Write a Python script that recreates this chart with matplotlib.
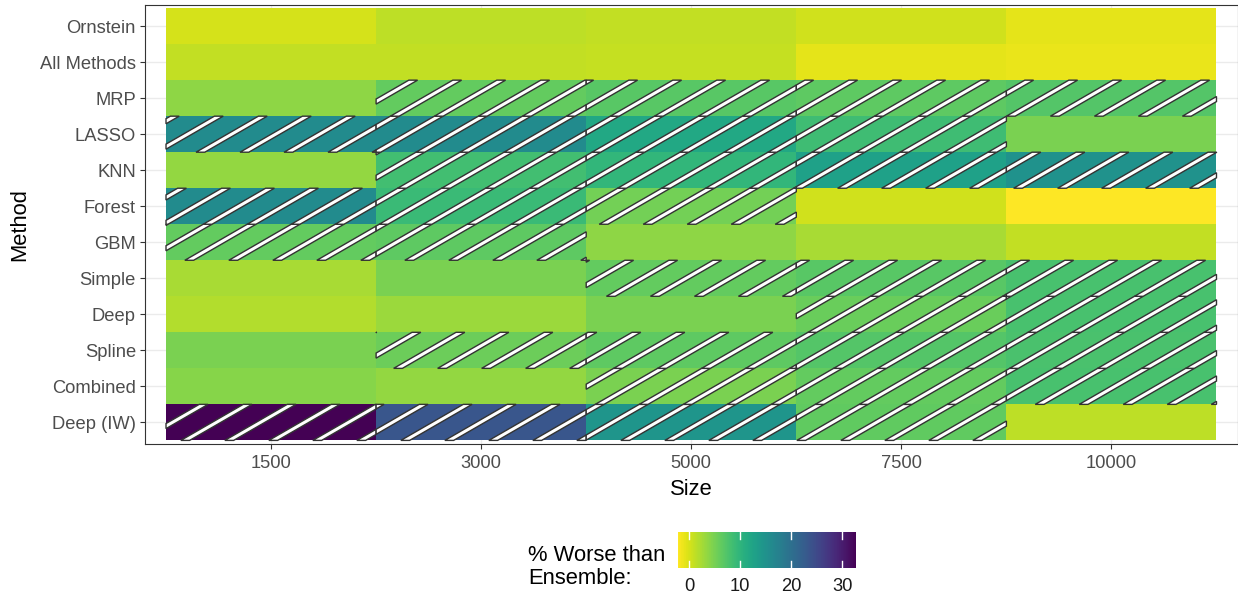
import numpy as np
import matplotlib.pyplot as plt
from matplotlib.collections import PolyCollection

plt.rcParams['font.family'] = ['Liberation Sans', 'DejaVu Sans']

# Categories
sizes = ['1500', '3000', '5000', '7500', '10000']
methods = ['Ornstein', 'All Methods', 'MRP', 'LASSO', 'KNN', 'Forest', 'GBM',
           'Simple', 'Deep', 'Spline', 'Combined', 'Deep (IW)']

# % worse than ensemble (per method, in size order)
pct_ornstein = [0.0, 1.3, 1.0, 0.3, -0.8]
pct_all = [1.0, 1.0, 0.9, -0.8, -1.0]
pct_mrp = [3.7, 6.2, 6.9, 6.5, 7.2]
pct_lasso = [16.0, 16.0, 11.8, 8.6, 4.8]
pct_knn = [3.4, 8.3, 9.7, 12.8, 15.0]
pct_forest = [16.0, 9.0, 5.2, 0.3, -2.2]
pct_gbm = [6.2, 6.5, 3.7, 2.3, 1.0]
pct_simple = [2.3, 4.8, 6.2, 6.9, 7.9]
pct_deep = [1.8, 3.0, 4.8, 5.8, 7.9]
pct_spline = [4.8, 5.6, 6.5, 7.2, 7.8]
pct_combined = [4.2, 3.5, 4.8, 6.2, 7.9]
pct_deep_iw = [32.7, 23.3, 14.5, 6.3, 1.3]

# striped cells (1 = hatched)
hatch_ornstein = [0, 0, 0, 0, 0]
hatch_all = [0, 0, 0, 0, 0]
hatch_mrp = [0, 1, 1, 1, 1]
hatch_lasso = [1, 1, 1, 1, 0]
hatch_knn = [0, 1, 1, 1, 1]
hatch_forest = [1, 1, 1, 0, 0]
hatch_gbm = [1, 1, 0, 0, 0]
hatch_simple = [0, 0, 1, 1, 1]
hatch_deep = [0, 0, 0, 1, 1]
hatch_spline = [0, 1, 1, 1, 1]
hatch_combined = [0, 0, 1, 1, 1]
hatch_deep_iw = [1, 1, 1, 1, 0]

vals = np.array([pct_ornstein, pct_all, pct_mrp, pct_lasso, pct_knn, pct_forest,
                 pct_gbm, pct_simple, pct_deep, pct_spline, pct_combined, pct_deep_iw])
hatch = np.array([hatch_ornstein, hatch_all, hatch_mrp, hatch_lasso, hatch_knn,
                  hatch_forest, hatch_gbm, hatch_simple, hatch_deep, hatch_spline,
                  hatch_combined, hatch_deep_iw])

nrow, ncol = vals.shape
W, H = 1238, 596
fig = plt.figure(figsize=(W / 100, H / 100), dpi=100)
ax_box = [145 / W, 1 - 444 / H, (1237.5 - 145) / W, (444 - 4.5) / H]
ax = fig.add_axes(ax_box)

# rows drawn top to bottom
grid_vals = vals[::-1]
grid_hatch = hatch[::-1]
xe = np.arange(ncol + 1) - 0.5
ye = np.arange(nrow + 1) - 0.5
mesh = ax.pcolormesh(xe, ye, grid_vals, cmap='viridis_r',
                     vmin=vals.min(), vmax=vals.max(), zorder=1)

xlim = (-0.6, ncol - 0.4)
ylim = (-0.6, nrow - 0.4)
ax.set_xlim(xlim)
ax.set_ylim(ylim)

# stripe pattern (white stripes, dark outline, 30 degrees)
ax_wpx = ax_box[2] * W
ax_hpx = ax_box[3] * H
ppx = ax_wpx / (xlim[1] - xlim[0])
ppy = ax_hpx / (ylim[1] - ylim[0])
ang = np.deg2rad(30)
d = np.array([np.cos(ang), np.sin(ang)])
nvec = np.array([-np.sin(ang), np.cos(ang)])
spacing = 22.0
sw = 4.4
phase = 5.0


def clip_poly(poly, x0, x1, y0, y1):
    def clip(pts, inside, inter):
        out = []
        for i in range(len(pts)):
            a, b = pts[i - 1], pts[i]
            ina, inb = inside(a), inside(b)
            if inb:
                if not ina:
                    out.append(inter(a, b))
                out.append(b)
            elif ina:
                out.append(inter(a, b))
        return out

    def ix(xc):
        return lambda a, b: (xc, a[1] + (b[1] - a[1]) * (xc - a[0]) / (b[0] - a[0]))

    def iy(yc):
        return lambda a, b: (a[0] + (b[0] - a[0]) * (yc - a[1]) / (b[1] - a[1]), yc)

    pts = poly
    pts = clip(pts, lambda p: p[0] >= x0, ix(x0))
    if pts:
        pts = clip(pts, lambda p: p[0] <= x1, ix(x1))
    if pts:
        pts = clip(pts, lambda p: p[1] >= y0, iy(y0))
    if pts:
        pts = clip(pts, lambda p: p[1] <= y1, iy(y1))
    return pts


stripes = []
for r in range(nrow):
    for c in range(ncol):
        if not grid_hatch[r, c]:
            continue
        X0 = (c - 0.5 - xlim[0]) * ppx
        X1 = (c + 0.5 - xlim[0]) * ppx
        Y0 = (r - 0.5 - ylim[0]) * ppy
        Y1 = (r + 0.5 - ylim[0]) * ppy
        corners = np.array([[X0, Y0], [X1, Y0], [X0, Y1], [X1, Y1]])
        proj = corners @ nvec
        k0 = int(np.floor((proj.min() - phase) / spacing)) - 1
        k1 = int(np.ceil((proj.max() - phase) / spacing)) + 1
        for k in range(k0, k1 + 1):
            ck = phase + k * spacing
            L = 3000
            quad = [tuple((ck - sw / 2) * nvec - L * d), tuple((ck - sw / 2) * nvec + L * d),
                    tuple((ck + sw / 2) * nvec + L * d), tuple((ck + sw / 2) * nvec - L * d)]
            pts = clip_poly(quad, X0, X1, Y0, Y1)
            if len(pts) >= 3:
                pts = np.array(pts)
                stripes.append(np.column_stack([pts[:, 0] / ppx + xlim[0],
                                                pts[:, 1] / ppy + ylim[0]]))

pc = PolyCollection(stripes, facecolors='white', edgecolors='#333333',
                    linewidths=1.0, joinstyle='miter', zorder=2)
ax.add_collection(pc)

ax.set_xticks(range(ncol))
ax.set_xticklabels(sizes)
ax.set_yticks(range(nrow))
ax.set_yticklabels(methods[::-1])
ax.grid(True, color='#EBEBEB', lw=1.0, zorder=0)
ax.set_axisbelow(True)
ax.tick_params(axis='both', colors='#333333', labelcolor='#4D4D4D',
               labelsize=13.2, length=3.5, width=0.8, pad=3)
ax.tick_params(axis='x', pad=4.5)
for s in ax.spines.values():
    s.set_color('#333333')
    s.set_linewidth(0.8)
ax.set_xlabel('Size', fontsize=15.8, labelpad=5)
ax.set_ylabel('Method', fontsize=15.8, labelpad=7)

# colour bar legend
cax = fig.add_axes([678 / W, 1 - 568 / H, 178 / W, 36 / H])
cb = fig.colorbar(mesh, cax=cax, orientation='horizontal', ticks=[0, 10, 20, 30])
cb.outline.set_visible(False)
cax.tick_params(axis='x', length=0, pad=7.5, labelsize=13.2, labelcolor='#1A1A1A')
for t in [0, 10, 20, 30]:
    cax.axvline(t, ymin=0, ymax=0.2, color='white', lw=1)
    cax.axvline(t, ymin=0.8, ymax=1, color='white', lw=1)
fig.text(528 / W, 1 - 567 / H, '% Worse than\nEnsemble:', ha='left', va='center',
         fontsize=15.8, linespacing=1.1)

fig.savefig('out.png', dpi=100)
